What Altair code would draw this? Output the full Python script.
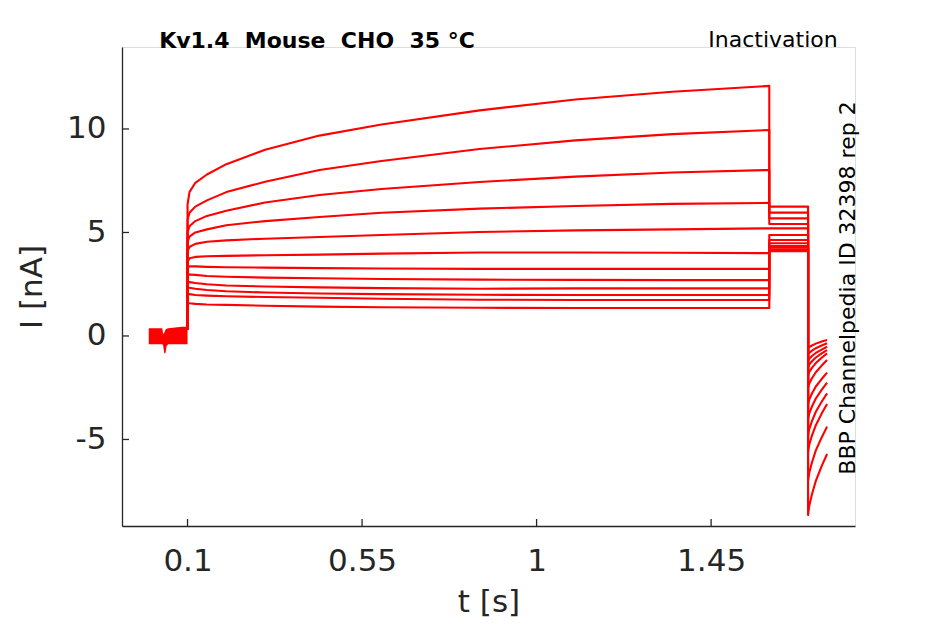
import altair as alt
import pandas as pd

# ---- data ----
# main pulse sample times (s)
T_MAIN = [0.1, 0.105, 0.12, 0.15, 0.2, 0.3, 0.44, 0.6, 0.853, 1.1, 1.35, 1.6]
TRACE_MAIN = [
    [6.35, 6.95, 7.40, 7.80, 8.30, 9.00, 9.68, 10.22, 10.90, 11.42, 11.80, 12.08],
    [5.60, 5.95, 6.25, 6.55, 6.95, 7.45, 8.02, 8.45, 9.03, 9.45, 9.75, 9.95],
    [5.00, 5.30, 5.55, 5.80, 6.05, 6.45, 6.81, 7.10, 7.44, 7.70, 7.90, 8.02],
    [4.55, 4.80, 5.00, 5.15, 5.35, 5.55, 5.75, 5.95, 6.15, 6.28, 6.38, 6.43],
    [4.10, 4.30, 4.45, 4.55, 4.62, 4.70, 4.78, 4.88, 5.02, 5.10, 5.15, 5.20],
    [3.60, 3.75, 3.82, 3.85, 3.87, 3.90, 3.93, 3.98, 4.03, 4.03, 4.02, 4.00],
    [3.30, 3.36, 3.36, 3.34, 3.32, 3.30, 3.28, 3.26, 3.24, 3.24, 3.24, 3.24],
    [2.95, 2.97, 2.95, 2.90, 2.86, 2.82, 2.79, 2.75, 2.72, 2.71, 2.70, 2.70],
    [2.60, 2.60, 2.56, 2.50, 2.44, 2.39, 2.35, 2.31, 2.28, 2.30, 2.30, 2.30],
    [2.35, 2.33, 2.28, 2.22, 2.16, 2.10, 2.05, 2.02, 1.99, 1.98, 1.98, 1.98],
    [2.05, 2.02, 1.98, 1.95, 1.92, 1.88, 1.85, 1.80, 1.75, 1.74, 1.74, 1.74],
    [1.60, 1.58, 1.55, 1.52, 1.50, 1.46, 1.42, 1.39, 1.36, 1.35, 1.35, 1.35],
]
# second pulse (1.6 s .. 1.7 s) level of each trace (nA)
T_PULSE2 = [1.6, 1.7]
PULSE2 = [6.25, 5.96, 5.68, 5.41, 5.20, 4.88, 4.64, 4.48, 4.35, 4.28, 4.19, 4.10]
# tail currents after 1.7 s
T_TAIL = [1.7, 1.703, 1.71, 1.72, 1.735, 1.749]
TAILS = [
    [-0.60, -0.54, -0.46, -0.37, -0.27, -0.19],
    [-0.90, -0.82, -0.71, -0.59, -0.46, -0.35],
    [-1.20, -1.10, -0.97, -0.82, -0.66, -0.52],
    [-1.50, -1.38, -1.22, -1.04, -0.84, -0.68],
    [-1.90, -1.74, -1.54, -1.31, -1.05, -0.84],
    [-2.50, -2.30, -2.04, -1.75, -1.43, -1.16],
    [-3.30, -3.07, -2.78, -2.44, -2.08, -1.77],
    [-4.00, -3.74, -3.41, -3.02, -2.60, -2.25],
    [-4.80, -4.50, -4.11, -3.66, -3.18, -2.77],
    [-5.60, -5.25, -4.81, -4.31, -3.75, -3.29],
    [-7.00, -6.61, -6.11, -5.53, -4.90, -4.38],
    [-8.65, -8.21, -7.65, -7.00, -6.29, -5.70],
]
# holding baseline (noise band) before the step
BASE_T = [0.0, 0.035, 0.037, 0.040, 0.043, 0.046, 0.050, 0.085, 0.1]
BASE_HI = [0.37, 0.37, 0.10, 0.15, 0.30, 0.35, 0.37, 0.45, 0.45]
BASE_LO = [-0.40, -0.40, -0.45, -0.84, -0.84, -0.50, -0.40, -0.40, -0.40]
BASE_STEP = 0.3

X_TICKS = [0.1, 0.55, 1, 1.45]
Y_TICKS = [-5, 0, 5, 10]
X_DOMAIN = [-0.069, 1.821]
Y_DOMAIN = [-9.18, 13.96]

TITLE = "Kv1.4\u00a0\u00a0Mouse\u00a0\u00a0CHO\u00a0\u00a035\u00a0°C"
LABEL_RIGHT = "BBP Channelpedia ID 32398 rep 2"
LABEL_TOPRIGHT = "Inactivation"

# ---- build table ----
rows = []
for i in range(len(TRACE_MAIN)):
    pts = [(T_MAIN[0], BASE_STEP)]
    pts += list(zip(T_MAIN, TRACE_MAIN[i]))
    pts += [(T_PULSE2[0], PULSE2[i]), (T_PULSE2[1], PULSE2[i])]
    pts += list(zip(T_TAIL, TAILS[i]))
    for k, (t, v) in enumerate(pts):
        rows.append({"trace": i, "idx": k, "t": t, "I": v})
df = pd.DataFrame(rows)
df_base = pd.DataFrame({"t": BASE_T, "hi": BASE_HI, "lo": BASE_LO})

AX = "#262626"
RED = "#ff0000"
FONT = "DejaVu Sans"
W, H = 733, 479

xscale = alt.Scale(domain=X_DOMAIN, nice=False, zero=False)
yscale = alt.Scale(domain=Y_DOMAIN, nice=False, zero=False)

xaxis = alt.Axis(values=X_TICKS, title="t [s]", labelExpr="'' + datum.value",
                 ticks=False, grid=False, labelFontSize=31, titleFontSize=31,
                 labelPadding=20, titlePadding=11, domainColor=AX, labelColor=AX,
                 titleColor=AX, titleFontWeight="normal", labelFont=FONT, titleFont=FONT,
                 domainWidth=1.3, labelFlush=False)
yaxis = alt.Axis(values=Y_TICKS, title="I [nA]", labelExpr="'' + datum.value",
                 ticks=False, grid=False, labelFontSize=31, titleFontSize=31,
                 labelPadding=16, titlePadding=18, domainColor=AX, labelColor=AX,
                 titleColor=AX, titleFontWeight="normal", labelFont=FONT, titleFont=FONT,
                 domainWidth=1.3, labelFlush=False)

lines = alt.Chart(df).mark_line(color=RED, strokeWidth=2.1, strokeJoin="round").encode(
    x=alt.X("t:Q", scale=xscale, axis=xaxis),
    y=alt.Y("I:Q", scale=yscale, axis=yaxis),
    detail="trace:N",
    order="idx:Q",
)

band = alt.Chart(df_base).mark_area(color=RED, opacity=1).encode(
    x=alt.X("t:Q", scale=xscale, axis=xaxis),
    y=alt.Y("lo:Q", scale=yscale, axis=yaxis),
    y2="hi:Q",
)

yticks = alt.Chart(pd.DataFrame({"v": Y_TICKS})).mark_rule(color=AX, strokeWidth=1.3).encode(
    y=alt.Y("v:Q", scale=yscale, axis=yaxis), x=alt.value(0), x2=alt.value(7))
xticks = alt.Chart(pd.DataFrame({"v": X_TICKS})).mark_rule(color=AX, strokeWidth=1.3).encode(
    x=alt.X("v:Q", scale=xscale, axis=xaxis), y=alt.value(H), y2=alt.value(H - 7))

title = alt.Chart(pd.DataFrame({"s": [TITLE]})).mark_text(
    font=FONT, fontSize=22, fontWeight="bold", color="black", align="center", baseline="middle"
).encode(text="s:N", x=alt.value(195), y=alt.value(-6))
topright = alt.Chart(pd.DataFrame({"s": [LABEL_TOPRIGHT]})).mark_text(
    font=FONT, fontSize=22, color="black", align="center", baseline="middle"
).encode(text="s:N", x=alt.value(651), y=alt.value(-7))
right = alt.Chart(pd.DataFrame({"s": [LABEL_RIGHT]})).mark_text(
    font=FONT, fontSize=22, color="black", align="center", baseline="middle", angle=270
).encode(text="s:N", x=alt.value(726), y=alt.value(241))

chart = alt.layer(lines, band, yticks, xticks, title, topright, right).properties(
    width=W, height=H,
    autosize=alt.AutoSizeParams(type="none"),
    padding={"left": 114, "top": 39, "right": 70, "bottom": 97},
).configure_view(strokeWidth=0).configure(font=FONT, background="white")

chart.save("out.html", embed_options={"renderer": "svg", "actions": False})
